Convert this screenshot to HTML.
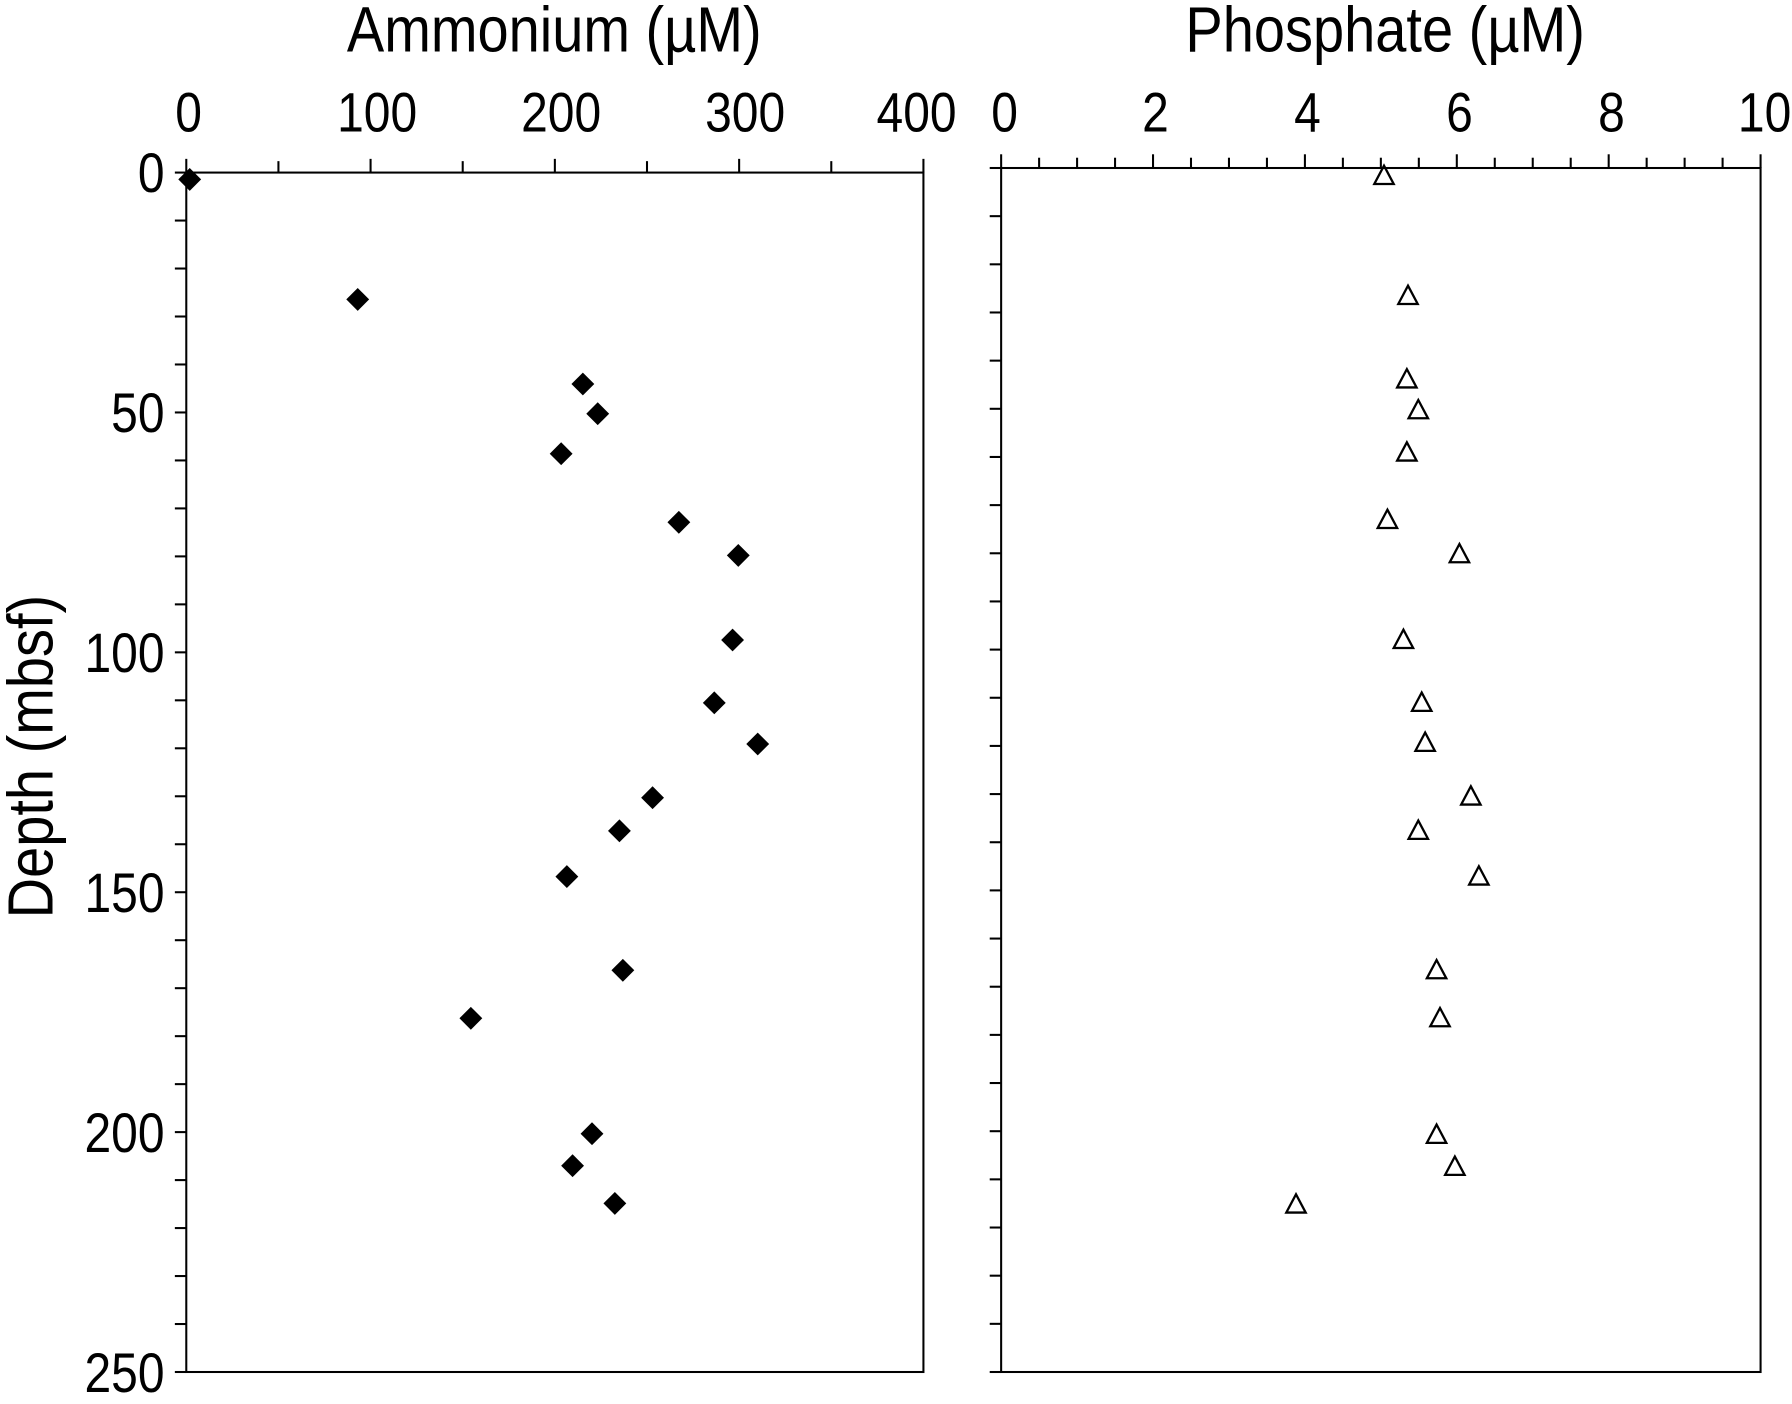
<!DOCTYPE html>
<html><head><meta charset="utf-8"><style>html,body{margin:0;padding:0;background:#fff}svg{display:block}</style></head>
<body>
<svg width="1792" height="1404" viewBox="0 0 1568 1228.5" xmlns="http://www.w3.org/2000/svg" font-family="Liberation Sans, sans-serif">
<rect width="1568" height="1228.5" fill="#fff"/>
<g stroke="#000" stroke-width="1.8" fill="none">
<rect x="163" y="151" width="645" height="1049.5"/>
<rect x="876" y="147" width="664.5" height="1053.5"/>
</g>
<g id="ticks" stroke="#000" stroke-width="1.8"></g>
<g id="txt" fill="#000"></g>
<g id="pts"></g>
<script>
var NS="http://www.w3.org/2000/svg",t=document.getElementById("ticks"),p=document.getElementById("pts"),T=document.getElementById("txt");
function L(a,b,c,d){var e=document.createElementNS(NS,"line");e.setAttribute("x1",a);e.setAttribute("y1",b);e.setAttribute("x2",c);e.setAttribute("y2",d);t.appendChild(e);}
function X(s,x,y,fs,anc,rot){var e=document.createElementNS(NS,"text");e.textContent=s;e.setAttribute("font-size",fs);e.setAttribute("text-anchor",anc);e.setAttribute("transform","translate("+x+","+y+")"+(rot?" rotate(-90)":"")+" scale(1,1.15)");T.appendChild(e);}
for(var i=0;i<=8;i++){var x=163+i*645/8;L(x,151,x,i%2?141:139);}
for(var i=0;i<=25;i++){var y=151+i*1049.5/25;L(163,y,153,y);}
for(var i=0;i<=20;i++){var x=876+i*664.5/20;L(x,147,x,i%4?138:135);}
for(var i=0;i<=25;i++){var y=147+i*1053.5/25;L(876,y,866,y);}
[["0",165],["100",330],["200",491],["300",652],["400",802]].forEach(function(a){X(a[0],a[1],115,42,"middle");});
[["0",879],["2",1011],["4",1144],["6",1277],["8",1410],["10",1544]].forEach(function(a){X(a[0],a[1],115,42,"middle");});
[["0",168],["50",378],["100",588],["150",798],["200",1008],["250",1218]].forEach(function(a){X(a[0],144,a[1],42,"end");});
X("Ammonium (µM)",485,45,49,"middle");
X("Phosphate (µM)",1212,45,49,"middle");
X("Depth (mbsf)",46,662,49,"middle",true);
var A=[[166,157],[313,262],[510,336],[523,362],[491,397],[594,457],[646,486],[641,560],[625,615],[663,651],[571,698],[542,727],[496,767],[545,849],[412,891],[518,992],[501,1020],[538,1053]];
A.forEach(function(q){var e=document.createElementNS(NS,"polygon");e.setAttribute("points",(q[0])+","+(q[1]-10)+" "+(q[0]+10)+","+q[1]+" "+q[0]+","+(q[1]+10)+" "+(q[0]-10)+","+q[1]);e.setAttribute("fill","#000");p.appendChild(e);});
var B=[[1211,154],[1232,259],[1231,332],[1241,359],[1231,396],[1214,455],[1277,485],[1228,560],[1244,615],[1247,650],[1287,697],[1241,727],[1294,767],[1257,849],[1260,891],[1257,993],[1273,1021],[1134,1054]];
B.forEach(function(q){var e=document.createElementNS(NS,"polygon");e.setAttribute("points",q[0]+","+(q[1]-9)+" "+(q[0]+8.5)+","+(q[1]+7)+" "+(q[0]-8.5)+","+(q[1]+7));e.setAttribute("fill","none");e.setAttribute("stroke","#000");e.setAttribute("stroke-width","2");p.appendChild(e);});
</script>
</svg>
</body></html>
